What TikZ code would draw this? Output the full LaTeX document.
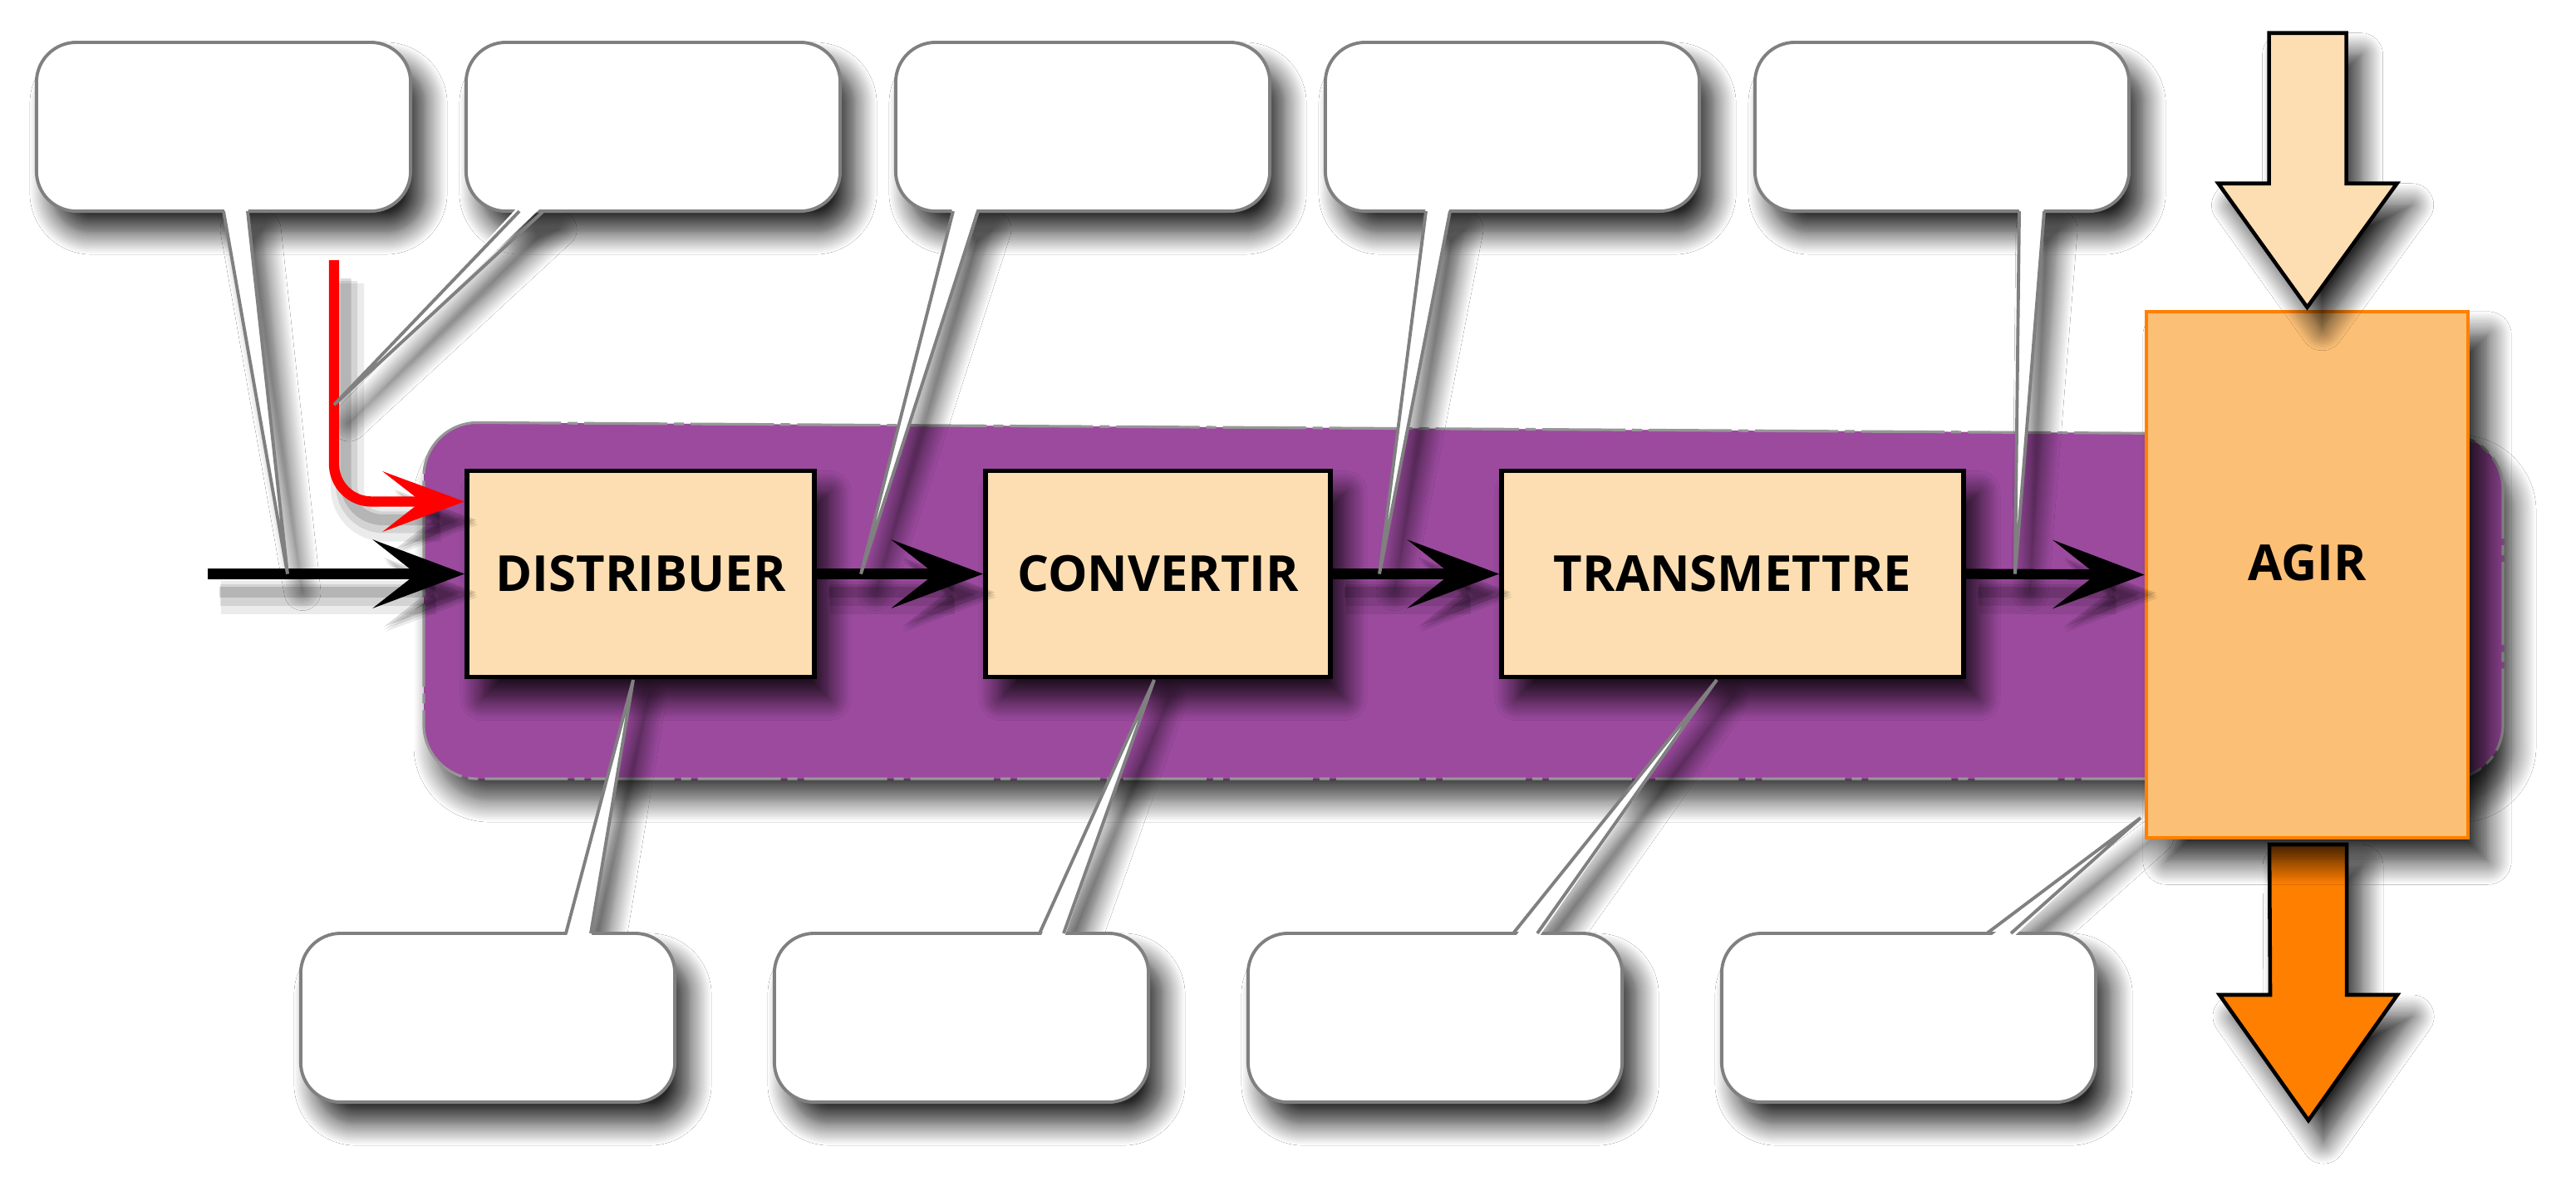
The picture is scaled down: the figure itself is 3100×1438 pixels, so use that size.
\documentclass[tikz,border=0pt]{standalone}
\usepackage{fontspec}
\setsansfont{Open Sans}
\usetikzlibrary{arrows.meta,shadows.blur,calc}
\definecolor{purp}{RGB}{155,74,158}
\definecolor{peach}{RGB}{252,222,178}
\definecolor{agirfill}{RGB}{251,191,118}
\definecolor{agirline}{RGB}{255,128,0}
\definecolor{orng}{RGB}{255,127,0}
\definecolor{cgray}{RGB}{128,128,128}
\definecolor{bandline}{RGB}{150,150,150}
\tikzset{
  softshadow/.style={blur shadow={shadow xshift=1.8mm, shadow yshift=-2.6mm, shadow blur radius=2.6mm, shadow blur steps=14, shadow opacity=85}},
  ptrshadow/.style={blur shadow={shadow xshift=1.8mm, shadow yshift=-2.2mm, shadow blur radius=2.2mm, shadow blur steps=12, shadow opacity=70}},
  bigshadow/.style={blur shadow={shadow xshift=2.4mm, shadow yshift=-2.8mm, shadow blur radius=2.8mm, shadow blur steps=14, shadow opacity=85}},
  calloutgeo/.style={minimum width=4.5cm, minimum height=2.03cm, inner sep=0pt, outer sep=0pt},
  calloutbox/.style={draw=cgray, line width=1.1pt, fill=white, rounded corners=4.8mm, softshadow},
  labelfont/.style={font=\sffamily\bfseries\fontsize{17}{20}\selectfont},
  procbox/.style={draw=black, line width=1.6pt, fill=peach, minimum height=2.48cm,
    inner sep=0pt, labelfont, softshadow},
  agirbox/.style={draw=agirline, line width=1.2pt, fill=agirfill, minimum width=3.87cm,
    minimum height=6.33cm, inner sep=0pt, bigshadow},
  bigarrow/.style={draw=black, line width=1.3pt, line join=miter, softshadow},
  bandfill/.style={fill=purp, rounded corners=6.5mm,
    blur shadow={shadow xshift=1.4mm, shadow yshift=-2.6mm, shadow blur radius=2.6mm, shadow blur steps=14, shadow opacity=75}},
  bandborder/.style={draw=bandline, line width=0.9pt, rounded corners=6.5mm,
    dash pattern=on 10mm off 0.8mm on 1.2mm off 0.8mm},
  lineshadow/.style={
    preaction={draw=black, opacity=0.08, line width=4mm, transform canvas={shift={(1.6mm,-2.8mm)}}},
    preaction={draw=black, opacity=0.10, line width=2.6mm, transform canvas={shift={(1.5mm,-2.5mm)}}},
    preaction={draw=black, opacity=0.14, line width=1.3mm, transform canvas={shift={(1.4mm,-2.2mm)}}}},
  flow/.style={draw=black, line width=3.5pt, -{Stealth[length=11mm,width=8.2mm,inset=5.2mm]}, lineshadow},
  redflow/.style={draw=red, line width=3.5pt, rounded corners=4.5mm,
    -{Stealth[length=9.8mm,width=7.2mm,inset=4.6mm]}, lineshadow},
  ptrline/.style={draw=cgray, line width=1.1pt},
}
\begin{document}
\begin{tikzpicture}[x=0.01cm,y=-0.01cm]
\useasboundingbox (0,0) rectangle (3100,1438);
\fill[white] (0,0) rectangle (3100,1438);

% system band
\path[bandfill] (510,508) -- (3012,524) -- (3012,937) -- (510,937) -- cycle;
\draw[bandborder] (510,508) -- (3012,524) -- (3012,937) -- (510,937) -- cycle;

% callout geometry (invisible frames, drawn below)
\foreach \n/\x in {ct1/269, ct2/786, ct3/1303, ct4/1820, ct5/2337}
  \path node[calloutgeo] (\n) at (\x,152.5) {};
\foreach \n/\x in {cb1/587, cb2/1157, cb3/1727, cb4/2297}
  \path node[calloutgeo] (\n) at (\x,1224.5) {};

% process boxes
\node[procbox, minimum width=4.18cm] (dist) at (771,690.5) {DISTRIBUER};
\node[procbox, minimum width=4.15cm] (conv) at (1393.5,690.5) {CONVERTIR};
\node[procbox, minimum width=5.56cm] (trans) at (2085,690.5) {TRANSMETTRE};

% pointer tips
\coordinate (p1) at (346,690.5);
\coordinate (p2) at (402,487);
\coordinate (p3) at (1036,690.5);
\coordinate (p4) at (1660,690.5);
\coordinate (p5) at (2425,690.5);
\coordinate (q1) at (762,818);
\coordinate (q2) at (1389,818);
\coordinate (q3) at (2066,818);
\coordinate (q4) at (2576,984);

\def\pointerlist{ct1/south/0/29/p1/-7, ct2/south/-161/-132/p2/-7,
    ct3/south/-156/-126/p3/-7, ct4/south/-104/-75/p4/-7, ct5/south/93/123/p5/-7,
    cb1/north/94/124/q1/7, cb2/north/94/123/q2/7, cb3/north/94/123/q3/7, cb4/north/94/123/q4/7}

% pointer shadows
\foreach \n/\an/\a/\b/\p/\s in \pointerlist
  \path[ptrshadow] ($(\n.\an)+(\a,0)$) -- (\p) -- ($(\n.\an)+(\b,0)$) -- cycle;

% callout boxes
\foreach \n in {ct1,ct2,ct3,ct4,ct5,cb1,cb2,cb3,cb4}
  \draw[calloutbox] (\n.south west) rectangle (\n.north east);

% output arrow (below AGIR)
\coordinate (outtop) at (2777,1016);
\draw[bigarrow, fill=orng] ($(outtop)+(-46,0)$) -- ++(93,0) -- ++(0,181) -- ++(61,0)
  -- ++(-107,151) -- ++(-107,-151) -- ++(61,0) -- cycle;

% AGIR
\node[agirbox] (agir) at (2776.5,691.5) {};
\node[labelfont] (agirlabel) at ([yshift=1.4mm]agir.center) {AGIR};

% input arrow (above AGIR)
\draw[bigarrow, fill=peach] ([yshift=0.03cm]agir.north) -- ++(-107,-149) -- ++(61,0)
  -- ++(0,-181) -- ++(93,0) -- ++(0,181) -- ++(61,0) -- cycle;

% flow connectors
\coordinate (in) at (250,690.5);
\coordinate (redstart) at (402,313);
\draw[flow] (in) -- (dist.west);
\draw[redflow] (redstart) |- ([yshift=0.87cm]dist.west);
\draw[flow] (dist.east) -- (conv.west);
\draw[flow] (conv.east) -- (trans.west);
\draw[flow] (trans.east) -- (agir.west);

% callout pointers
\foreach \n/\an/\a/\b/\p/\s in \pointerlist {
  \fill[white] ($(\n.\an)+(\a,\s)$) -- (\p) -- ($(\n.\an)+(\b,\s)$) -- cycle;
  \draw[ptrline] ($(\n.\an)+(\a,0)$) -- (\p) -- ($(\n.\an)+(\b,0)$);
}
\end{tikzpicture}
\end{document}
